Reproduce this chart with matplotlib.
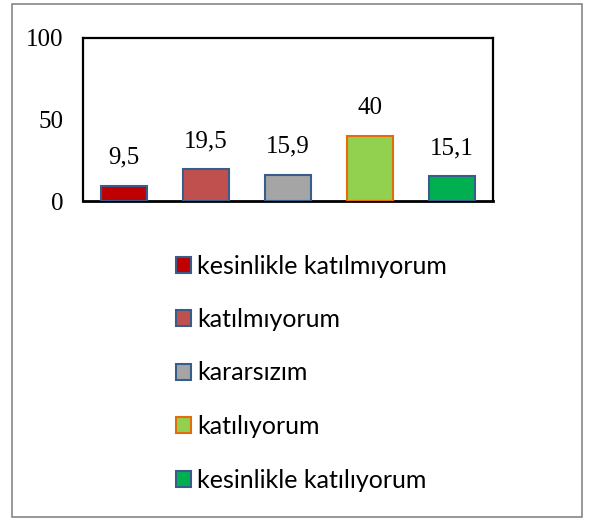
import matplotlib
matplotlib.use("Agg")
import matplotlib.pyplot as plt
from matplotlib.patches import Rectangle, Patch

categories = ["kesinlikle katılmıyorum", "katılmıyorum", "kararsızım", "katılıyorum", "kesinlikle katılıyorum"]
values = [9.5, 19.5, 15.9, 40, 15.1]
labels = ["9,5", "19,5", "15,9", "40", "15,1"]
colors = ["#c00000", "#c0504d", "#a5a5a5", "#92d050", "#00b050"]
edges = ["#385d8a", "#385d8a", "#385d8a", "#e46c0a", "#385d8a"]
yticks = [0, 50, 100]

W, H = 594, 520
fig = plt.figure(figsize=(W/100, H/100), dpi=100)
fig.patches.append(Rectangle((12/W, 1-517/H), 570/W, 513/H, transform=fig.transFigure,
                             fill=False, edgecolor="#868686", linewidth=1.2))

ax = fig.add_axes([83/W, 1-201/H, 410/W, 163/H])
x = list(range(len(values)))
ax.bar(x, values, width=0.57, color=colors, edgecolor=edges, linewidth=1.5, zorder=3)
ax.set_xlim(-0.5, len(values)-0.5)
ax.set_ylim(0, 100)
ax.set_yticks(yticks)
ax.set_yticklabels([str(t) for t in yticks], fontfamily="Liberation Serif", fontsize=18)
ax.tick_params(axis="y", length=0, pad=14)
ax.set_xticks([])
for s in ax.spines.values():
    s.set_linewidth(1.6)
    s.set_color("black")
ax.spines["bottom"].set_linewidth(2)
for xi, v, lab in zip(x, values, labels):
    ax.annotate(lab, (xi, v), xytext=(0, 16), textcoords="offset points", ha="center", va="baseline",
                fontfamily="Liberation Serif", fontsize=18)

handles = [Patch(facecolor=c, edgecolor=e, linewidth=1.5) for c, e in zip(colors, edges)]
fig.legend(handles, categories, loc="upper left", bbox_to_anchor=(163/W, 1-242/H),
           frameon=False, prop={"family": "Lato", "size": 18}, labelspacing=1.22,
           handlelength=0.6, handleheight=0.6, handletextpad=0.25, borderpad=0)

fig.savefig("out.png", dpi=100)
